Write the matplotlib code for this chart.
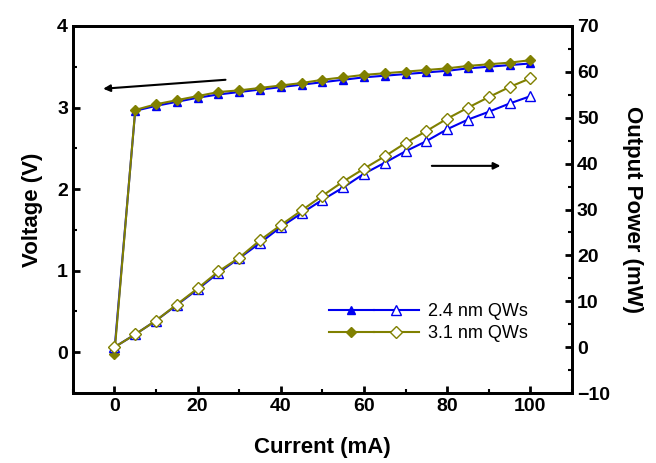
import matplotlib
matplotlib.use("Agg")
import matplotlib.pyplot as plt
from matplotlib.legend_handler import HandlerTuple
from matplotlib.ticker import MultipleLocator

current = [0, 5, 10, 15, 20, 25, 30, 35, 40, 45, 50, 55, 60, 65, 70, 75, 80, 85, 90, 95, 100]
volt_24 = [0.02, 2.96, 3.02, 3.07, 3.12, 3.16, 3.19, 3.22, 3.25, 3.28, 3.31, 3.34, 3.37, 3.39, 3.41, 3.43, 3.45, 3.48, 3.50, 3.52, 3.54]
volt_31 = [-0.02, 2.97, 3.04, 3.09, 3.14, 3.19, 3.21, 3.24, 3.27, 3.30, 3.34, 3.37, 3.40, 3.42, 3.44, 3.46, 3.48, 3.51, 3.53, 3.55, 3.58]
power_24 = [0.0, 2.8, 5.8, 9.2, 12.6, 16.2, 19.4, 22.7, 26.2, 29.2, 32.1, 34.8, 37.8, 40.2, 42.7, 44.9, 47.5, 49.6, 51.3, 53.1, 54.7]
power_31 = [0.0, 2.8, 5.8, 9.3, 12.8, 16.5, 19.5, 23.3, 26.6, 29.8, 33.0, 36.1, 38.9, 41.6, 44.5, 47.1, 49.8, 52.2, 54.5, 56.7, 58.6]
labels = ["2.4 nm QWs", "3.1 nm QWs"]

blue = "#0000F0"
olive = "#808000"

plt.rcParams['font.family'] = ['Liberation Sans', 'DejaVu Sans']

fig = plt.figure(figsize=(6.56, 4.63), dpi=100)
ax = fig.add_axes([0.111, 0.151, 0.761, 0.793])
ax2 = ax.twinx()

lw = 1.5
ms = 6
v1, = ax.plot(current, volt_24, color=blue, lw=lw, marker='^', ms=ms, mfc=blue, mec=blue)
v2, = ax.plot(current, volt_31, color=olive, lw=lw, marker='D', ms=ms - 0.5, mfc=olive, mec=olive)
p1, = ax2.plot(current, power_24, color=blue, lw=lw, marker='^', ms=ms + 1, mfc='white', mec=blue)
p2, = ax2.plot(current, power_31, color=olive, lw=lw, marker='D', ms=ms, mfc='white', mec=olive)

ax.set_xlim(-10, 110)
ax.set_ylim(-0.5, 4)
ax2.set_ylim(-10, 70)

ax.xaxis.set_major_locator(MultipleLocator(20))
ax.xaxis.set_minor_locator(MultipleLocator(10))
ax.yaxis.set_major_locator(MultipleLocator(1))
ax.yaxis.set_minor_locator(MultipleLocator(0.5))
ax2.yaxis.set_major_locator(MultipleLocator(10))
ax2.yaxis.set_minor_locator(MultipleLocator(5))

for a in (ax, ax2):
    for s in a.spines.values():
        s.set_linewidth(2)
    a.tick_params(which='major', direction='in', length=5, width=2, labelsize=14)
    a.tick_params(which='minor', direction='in', length=3, width=1.5)
ax.tick_params(axis='both', which='both', top=False, right=False)
ax2.tick_params(axis='y', which='both', left=False, right=True)
for lab in ax.get_xticklabels() + ax.get_yticklabels() + ax2.get_yticklabels():
    lab.set_fontweight('bold')

ax.set_xlabel("Current (mA)", fontsize=16, fontweight='bold', labelpad=16)
ax.set_ylabel("Voltage (V)", fontsize=16, fontweight='bold', labelpad=10)
ax2.set_ylabel("Output Power (mW)", fontsize=16, fontweight='bold', rotation=270, labelpad=24)

ax.annotate("", xy=(-2.7, 3.23), xytext=(26.7, 3.34),
            arrowprops=dict(arrowstyle='-|>', color='black', lw=1.5, mutation_scale=10, shrinkA=0, shrinkB=0))
ax.annotate("", xy=(92.8, 2.285), xytext=(76.3, 2.285),
            arrowprops=dict(arrowstyle='-|>', color='black', lw=1.5, mutation_scale=10, shrinkA=0, shrinkB=0))

leg = ax.legend([(v1, p1), (v2, p2)], labels,
                handler_map={tuple: HandlerTuple(ndivide=2, pad=0)},
                numpoints=1, handlelength=5.0, handletextpad=0.5, labelspacing=0.3,
                frameon=False, fontsize=13,
                loc='upper left', bbox_to_anchor=(0.48, 0.29))

fig.savefig("out.png", dpi=100)
